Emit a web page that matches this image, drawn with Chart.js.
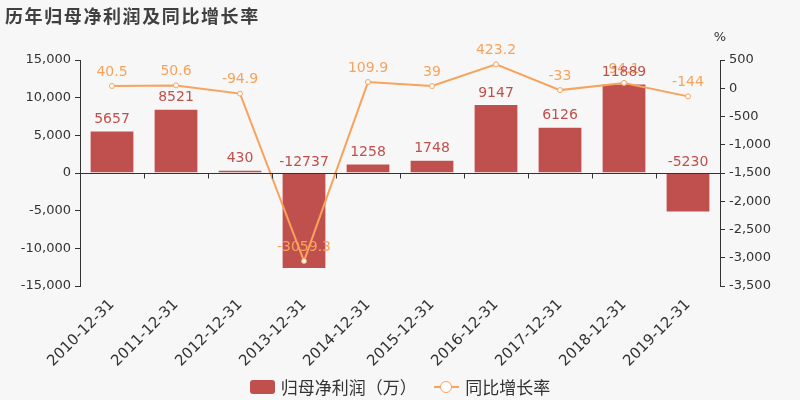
<!DOCTYPE html>
<html>
<head>
<meta charset="utf-8">
<script src="https://cdn.jsdelivr.net/npm/chart.js@4/dist/chart.umd.min.js"></script>
<style>
    body { margin: 0; background: #f7f7f7; font-family: "DejaVu Sans", "Noto Sans CJK SC", sans-serif; }
    #wrap { position: relative; width: 800px; height: 400px; }
    #title { position: absolute; left: 5px; top: 2px; font-size: 18px; letter-spacing: 1.6px; font-weight: bold; color: #404040; }
    #legend { position: absolute; left: 0; width: 800px; top: 374px; text-align: center; font-size: 17px; color: #333; }
    .item { display: inline-flex; align-items: center; margin: 0 6px; }
    .barBox { width: 25px; height: 14px; border-radius: 3px; background: #c0504d; margin-right: 6px; }
    .lineBox { position: relative; width: 25px; height: 14px; margin-right: 6px; }
    .lineBox .seg { position: absolute; left: 0; top: 6px; width: 25px; height: 2px; background: #f7a35c; }
    .lineBox .dot { position: absolute; left: 6px; top: 1px; width: 10px; height: 10px; border: 1.5px solid #f7a35c; border-radius: 50%; background: #fff; }
</style>
</head>
<body>
<div id="wrap">
    <canvas id="chart" width="800" height="400"></canvas>
    <div id="title">历年归母净利润及同比增长率</div>
    <div id="legend">
        <span class="item"><span class="barBox"></span>归母净利润（万）</span>
        <span class="item"><span class="lineBox"><span class="seg"></span><span class="dot"></span></span>同比增长率</span>
    </div>
</div>
<script>
const years = ["2010-12-31", "2011-12-31", "2012-12-31", "2013-12-31", "2014-12-31",
               "2015-12-31", "2016-12-31", "2017-12-31", "2018-12-31", "2019-12-31"];
const profit = [5657, 8521, 430, -12737, 1258, 1748, 9147, 6126, 11889, -5230];
const growth = [40.5, 50.6, -94.9, -3059.3, 109.9, 39, 423.2, -33, 94.1, -144];

const barColor = "#c0504d";
const lineColor = "#f7a35c";
const font = "DejaVu Sans, Noto Sans CJK SC, sans-serif";

// x axis line sits on zero, with ticks between categories
const zeroLine = {
    id: "zeroLine",
    afterDatasetsDraw(chart) {
        const ctx = chart.ctx;
        const x = chart.scales.x;
        const y = chart.scales.y;
        const y0 = Math.round(y.getPixelForValue(0)) + 0.5;
        const step = x.getPixelForValue(1) - x.getPixelForValue(0);
        ctx.save();
        ctx.strokeStyle = "#333";
        ctx.lineWidth = 1;
        ctx.beginPath();
        ctx.moveTo(chart.chartArea.left, y0);
        ctx.lineTo(chart.chartArea.right, y0);
        for (let i = 0; i <= years.length; i++) {
            const px = Math.round(x.getPixelForValue(0) - step / 2 + i * step) + 0.5;
            ctx.moveTo(px, y0);
            ctx.lineTo(px, y0 + 5);
        }
        ctx.stroke();
        ctx.restore();
    }
};

const valueLabels = {
    id: "valueLabels",
    afterDraw(chart) {
        const ctx = chart.ctx;
        ctx.save();
        ctx.font = "14px " + font;
        ctx.textAlign = "center";
        ctx.textBaseline = "bottom";
        chart.data.datasets.forEach((ds, di) => {
            const meta = chart.getDatasetMeta(di);
            meta.data.forEach((el, i) => {
                if (ds.type === "bar") {
                    ctx.fillStyle = barColor;
                    ctx.fillText(String(ds.data[i]), el.x, Math.min(el.y, el.base) - 4);
                } else {
                    ctx.fillStyle = lineColor;
                    ctx.fillText(String(ds.data[i]), el.x, el.y - 7);
                }
            });
        });
        // unit over the right axis
        ctx.fillStyle = "#333";
        ctx.font = "13px " + font;
        ctx.fillText("%", 720, 44);
        ctx.restore();
    }
};

new Chart(document.getElementById("chart"), {
    data: {
        labels: years,
        datasets: [
            {
                type: "line",
                label: "同比增长率",
                data: growth,
                yAxisID: "y1",
                borderColor: lineColor,
                borderWidth: 2,
                pointRadius: 2.5,
                pointBackgroundColor: "#fff",
                pointBorderColor: lineColor,
                pointBorderWidth: 1,
                tension: 0,
                order: 0
            },
            {
                type: "bar",
                label: "归母净利润（万）",
                data: profit,
                yAxisID: "y",
                backgroundColor: barColor,
                borderColor: "rgba(255,255,255,0.45)",
                borderWidth: 1,
                categoryPercentage: 1,
                barPercentage: 0.7,
                order: 1
            }
        ]
    },
    options: {
        responsive: false,
        animation: false,
        layout: { padding: { top: 60, right: 0, bottom: 0, left: 0 } },
        plugins: {
            legend: { display: false },
            tooltip: { enabled: false }
        },
        scales: {
            x: {
                grid: { display: false },
                border: { display: false },
                ticks: {
                    color: "#333",
                    font: { family: font, size: 15 },
                    minRotation: 45,
                    maxRotation: 45,
                    padding: 2
                },
                afterFit(scale) { scale.height = 114; }
            },
            y: {
                position: "left",
                min: -15000,
                max: 15000,
                ticks: {
                    stepSize: 5000,
                    color: "#333",
                    font: { family: font, size: 13 },
                    padding: 4
                },
                grid: { display: true, drawOnChartArea: false, drawTicks: true, tickLength: 5, color: "#333" },
                border: { display: true, color: "#333" },
                afterFit(scale) { scale.width = 80; }
            },
            y1: {
                position: "right",
                min: -3500,
                max: 500,
                ticks: {
                    stepSize: 500,
                    color: "#333",
                    font: { family: font, size: 13 },
                    padding: 4
                },
                grid: { display: true, drawOnChartArea: false, drawTicks: true, tickLength: 5, color: "#333" },
                border: { display: true, color: "#333" },
                afterFit(scale) { scale.width = 80; }
            }
        }
    },
    plugins: [zeroLine, valueLabels]
});
</script>
</body>
</html>
